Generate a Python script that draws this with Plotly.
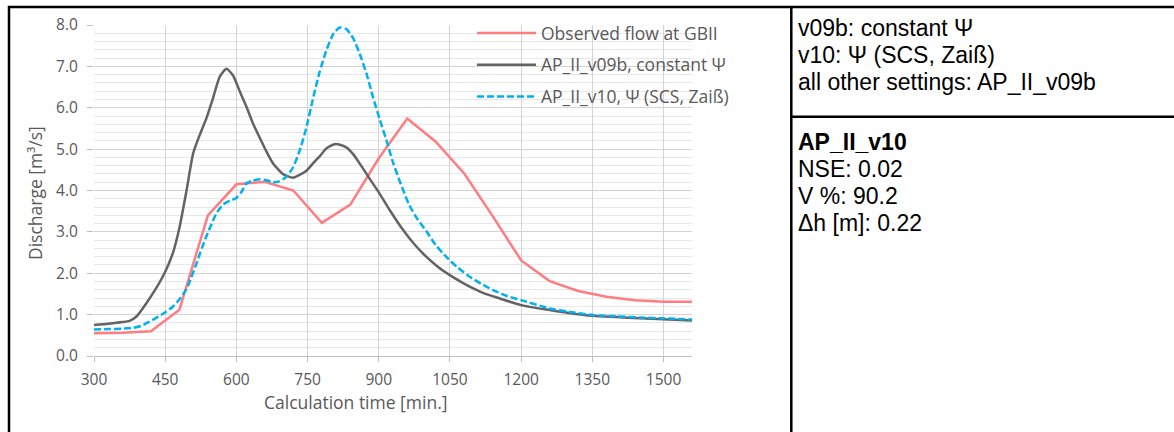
import plotly.graph_objects as go

# ---------------- data ----------------
obs_t = [300, 360, 420, 480, 540, 600, 660, 720, 780, 840, 900, 960, 1020, 1080,
         1140, 1200, 1260, 1320, 1380, 1440, 1500, 1560]
obs_q = [0.55, 0.56, 0.60, 1.12, 3.40, 4.15, 4.21, 4.00, 3.22, 3.66, 4.78, 5.74, 5.18, 4.41,
         3.38, 2.31, 1.81, 1.57, 1.43, 1.35, 1.31, 1.31]

v09_t = [300, 330, 360, 375, 390, 410, 430, 445, 466, 480, 495, 509, 523, 537, 550, 565,
         579, 593, 607, 621, 635, 649, 663, 677, 698, 719, 733, 747, 761, 775, 790, 807,
         820, 832, 846, 860, 880, 902, 923, 951, 975, 1000, 1025, 1049, 1075, 1098, 1125,
         1155, 1200, 1260, 1300, 1351, 1400, 1450, 1499, 1560]
v09_q = [0.75, 0.78, 0.82, 0.85, 0.96, 1.27, 1.62, 1.92, 2.48, 3.10, 4.00, 4.90, 5.35, 5.75,
         6.20, 6.75, 6.94, 6.78, 6.40, 6.03, 5.62, 5.28, 4.95, 4.66, 4.40, 4.31, 4.38, 4.47,
         4.65, 4.82, 5.02, 5.12, 5.10, 5.04, 4.88, 4.65, 4.30, 3.92, 3.53, 3.05, 2.70, 2.40,
         2.15, 1.96, 1.78, 1.64, 1.50, 1.39, 1.23, 1.11, 1.04, 0.97, 0.94, 0.91, 0.89, 0.86]

v10_t = [300, 330, 360, 382, 400, 417, 431, 452, 466, 480, 495, 505, 516, 527, 537, 548,
         558, 572, 586, 600, 610, 621, 635, 650, 663, 677, 690, 705, 719, 733, 747, 761,
         775, 790, 805, 818, 832, 846, 860, 874, 888, 902, 916, 930, 945, 965, 982, 1000,
         1020, 1042, 1065, 1091, 1115, 1140, 1170, 1200, 1260, 1300, 1351, 1400, 1450,
         1499, 1560]
v10_q = [0.64, 0.65, 0.66, 0.68, 0.73, 0.83, 0.92, 1.07, 1.19, 1.37, 1.62, 1.90, 2.24, 2.60,
         2.90, 3.20, 3.45, 3.66, 3.75, 3.82, 3.95, 4.17, 4.24, 4.27, 4.25, 4.20, 4.22, 4.33,
         4.55, 4.95, 5.50, 6.20, 6.85, 7.40, 7.80, 7.94, 7.90, 7.68, 7.30, 6.83, 6.25, 5.72,
         5.22, 4.68, 4.20, 3.63, 3.30, 3.02, 2.68, 2.40, 2.15, 1.92, 1.75, 1.60, 1.45, 1.35,
         1.15, 1.07, 0.99, 0.96, 0.93, 0.91, 0.88]

series_names = ["Observed flow at GBII", "AP_II_v09b, constant Ψ", "AP_II_v10, Ψ (SCS, Zaiß)"]
x_ticks = [300, 450, 600, 750, 900, 1050, 1200, 1350, 1500]
x_title = "Calculation time [min.]"
y_title = "Discharge [m³/s]"
info_top = ["v09b: constant Ψ", "v10: Ψ (SCS, Zaiß)", "all other settings: AP_II_v09b"]
info_bottom = ["<b>AP_II_v10</b>", "NSE: 0.02", "V %: 90.2", "Δh [m]: 0.22"]

# ---------------- layout geometry (pixels) ----------------
W, H = 1174, 432
L, T, PW, PH = 94, 25, 598, 331


def px(x):
    return (x - L) / PW


def py(y):
    return (T + PH - y) / PH


TXT = "#595959"
AX_FONT = "Open Sans"
INFO_FONT = dict(family="Liberation Sans, Arial", size=23, color="black")

fig = go.Figure()
fig.add_trace(go.Scatter(x=obs_t, y=obs_q, mode="lines", name=series_names[0],
                         legendgroup="a", line=dict(color="#FF7C80", width=2.5)))
fig.add_trace(go.Scatter(x=v09_t, y=v09_q, mode="lines", name=series_names[1],
                         legendgroup="b",
                         line=dict(color="#636363", width=2.5, shape="spline", smoothing=0.6)))
fig.add_trace(go.Scatter(x=v10_t, y=v10_q, mode="lines", name=series_names[2],
                         legendgroup="c",
                         line=dict(color="#00B0F0", width=2.5, dash="7px,3px",
                                   shape="spline", smoothing=0.6)))

shapes = []
# white box behind legend (hides grid)
shapes.append(dict(type="rect", xref="paper", yref="paper", x0=px(457), x1=px(693),
                   y0=py(117), y1=py(22), fillcolor="white", line=dict(width=0),
                   layer="between"))
# table borders
blk = dict(color="black", width=2.5)
shapes.append(dict(type="line", xref="paper", yref="paper", x0=px(8), x1=px(1176),
                   y0=py(7), y1=py(7), line=blk))
shapes.append(dict(type="line", xref="paper", yref="paper", x0=px(9), x1=px(9),
                   y0=py(6), y1=py(440), line=blk))
shapes.append(dict(type="line", xref="paper", yref="paper", x0=px(791.3), x1=px(791.3),
                   y0=py(6), y1=py(440), line=blk))
shapes.append(dict(type="line", xref="paper", yref="paper", x0=px(791), x1=px(1176),
                   y0=py(116.7), y1=py(116.7), line=blk))

annotations = []
annotations.append(dict(text=x_title, xref="paper", yref="paper", x=px(356), y=py(402),
                        xanchor="center", yanchor="middle", showarrow=False,
                        font=dict(family=AX_FONT, size=17.5, color=TXT)))
annotations.append(dict(text=y_title, xref="paper", yref="paper", x=px(35), y=py(193),
                        xanchor="center", yanchor="middle", showarrow=False, textangle=-90,
                        font=dict(family=AX_FONT, size=17.5, color=TXT)))
for i, s in enumerate(info_top):
    annotations.append(dict(text=s, xref="paper", yref="paper", x=px(796), y=py(28 + 27 * i),
                            xanchor="left", yanchor="middle", showarrow=False, font=INFO_FONT))
for i, s in enumerate(info_bottom):
    annotations.append(dict(text=s, xref="paper", yref="paper", x=px(796), y=py(142 + 27 * i),
                            xanchor="left", yanchor="middle", showarrow=False, font=INFO_FONT))

fig.update_layout(
    width=W, height=H,
    margin=dict(l=L, r=W - L - PW, t=T, b=H - T - PH, autoexpand=False),
    paper_bgcolor="white", plot_bgcolor="white",
    showlegend=True,
    legend=dict(x=px(472), y=py(15), xanchor="left", yanchor="top",
                bgcolor="rgba(0,0,0,0)", borderwidth=0, tracegroupgap=6, itemwidth=59,
                font=dict(family=AX_FONT, size=17.5, color=TXT)),
    xaxis=dict(range=[300, 1560], tickvals=x_ticks, showgrid=True, gridcolor="#d4d4d4",
               gridwidth=1, zeroline=False, showline=True, linecolor="#bfbfbf", linewidth=1,
               ticks="outside", ticklen=5, tickcolor="#bfbfbf", ticklabelstandoff=4,
               tickfont=dict(family=AX_FONT, size=15.5, color=TXT)),
    yaxis=dict(range=[0, 8], dtick=1, tick0=0, tickformat=".1f", showgrid=True,
               gridcolor="#d4d4d4", gridwidth=1, zeroline=False, showline=False,
               ticks="outside", ticklen=6, tickcolor="#bfbfbf", ticklabelstandoff=6,
               minor=dict(dtick=0.2, showgrid=True, gridcolor="#e8e8e8", gridwidth=1),
               tickfont=dict(family=AX_FONT, size=15.5, color=TXT)),
    shapes=shapes,
    annotations=annotations,
)

fig.write_html("out.html")
